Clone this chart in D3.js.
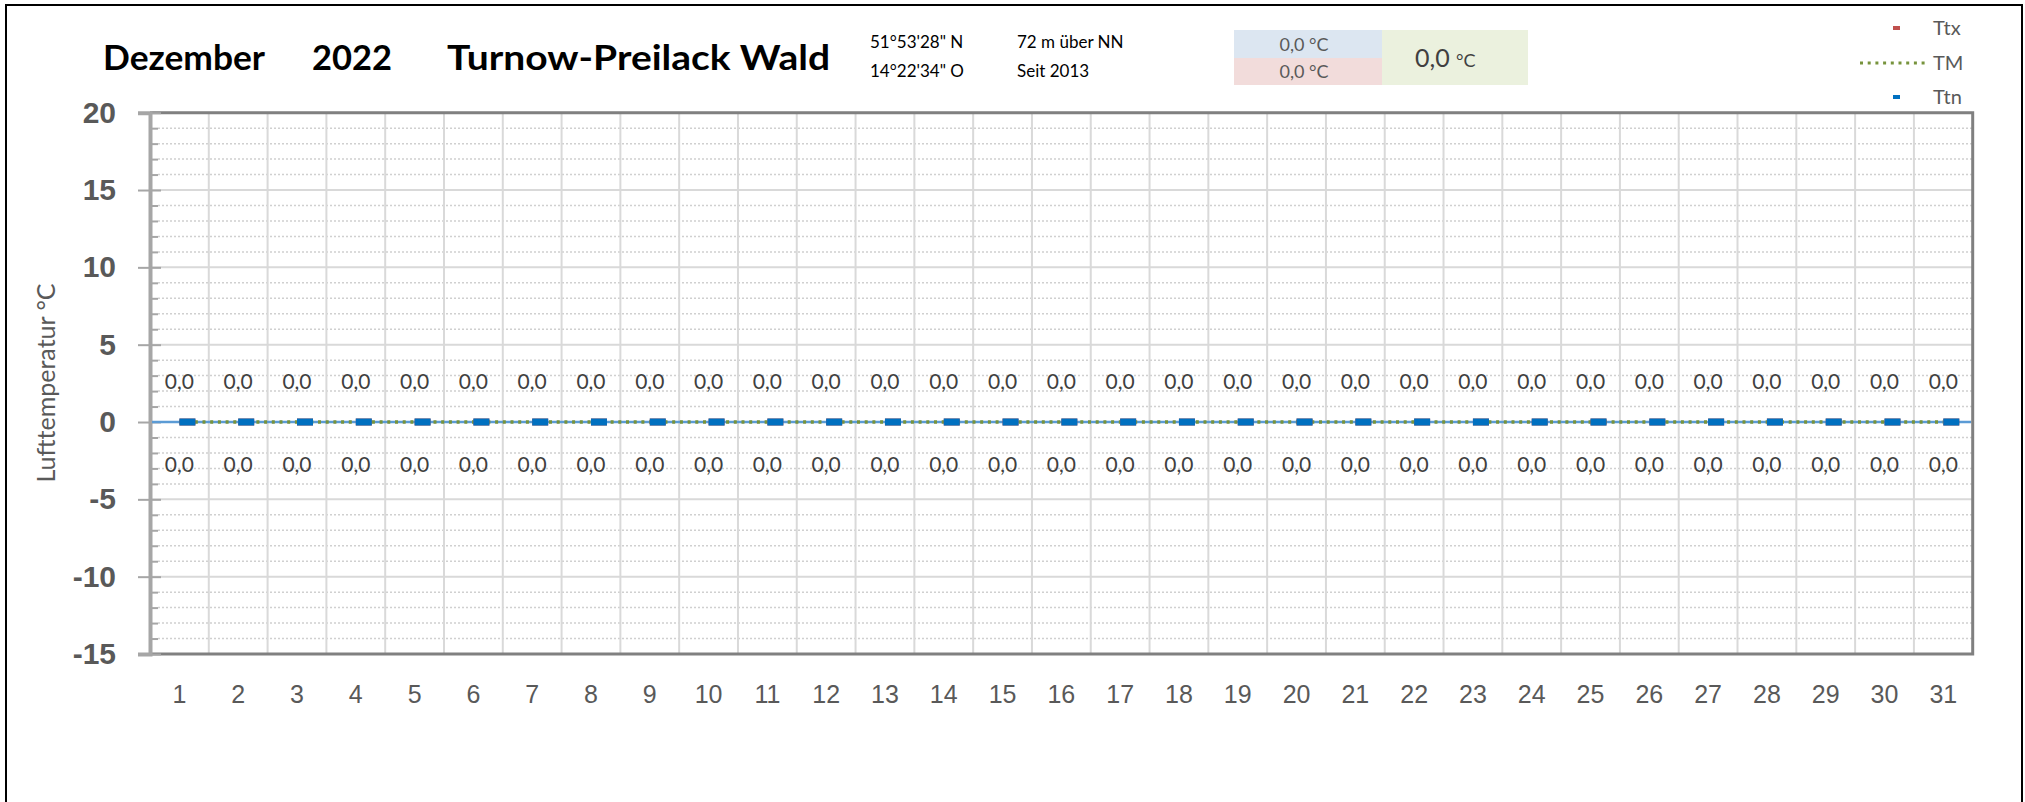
<!DOCTYPE html>
<html>
<head>
<meta charset="utf-8">
<script src="https://cdn.jsdelivr.net/npm/d3@7"></script>
<style>
  body { margin: 0; background: #fff; }
  svg { display: block; font-family: Lato, "Liberation Sans", sans-serif; }
</style>
</head>
<body>
<svg id="chart" width="2025" height="802"></svg>
<script>
// daily values, December 2022 (station reported 0,0 everywhere)
const days = [1, 2, 3, 4, 5, 6, 7, 8, 9, 10, 11, 12, 13, 14, 15, 16, 17, 18, 19, 20, 21, 22, 23, 24, 25, 26, 27, 28, 29, 30, 31];
const ttx = [0, 0, 0, 0, 0, 0, 0, 0, 0, 0, 0, 0, 0, 0, 0, 0, 0, 0, 0, 0, 0, 0, 0, 0, 0, 0, 0, 0, 0, 0, 0];
const tm  = [0, 0, 0, 0, 0, 0, 0, 0, 0, 0, 0, 0, 0, 0, 0, 0, 0, 0, 0, 0, 0, 0, 0, 0, 0, 0, 0, 0, 0, 0, 0];
const ttn = [0, 0, 0, 0, 0, 0, 0, 0, 0, 0, 0, 0, 0, 0, 0, 0, 0, 0, 0, 0, 0, 0, 0, 0, 0, 0, 0, 0, 0, 0, 0];
const yTicks = [-15, -10, -5, 0, 5, 10, 15, 20];
const seriesNames = ['Ttx', 'TM', 'Ttn'];
const titleParts = ['Dezember', '2022', 'Turnow-Preilack Wald'];
const coordLines = ['51°53\'28" N', '14°22\'34" O'];
const infoLines = ['72 m über NN', 'Seit 2013'];
const meanMin = 0.0;
const meanMax = 0.0;
const meanAll = 0.0;

let fmt = (v) => d3.format('.1f')(v).replace('.', ',').replace('−', '-');

let svg = d3.select('#chart');

// outer frame
svg.append('rect')
  .attr('x', 6).attr('y', 5)
  .attr('width', 2016).attr('height', 800)
  .attr('fill', 'none')
  .attr('stroke', '#000')
  .attr('stroke-width', 2);

let x = d3.scaleBand().domain(days).range([150, 1972.7]);
let y = d3.scaleLinear().domain([-15, 20]).range([654, 112.7]);
let cx = (d) => x(d) + x.bandwidth() / 2;

// minor dotted gridlines
let minor = y.ticks(35).filter(v => v % 5 != 0);
svg.append('g').selectAll('line')
  .data(minor)
  .enter().append('line')
  .attr('x1', 158).attr('x2', 1972)
  .attr('y1', d => y(d)).attr('y2', d => y(d))
  .attr('stroke', '#d0d0d0')
  .attr('stroke-width', 1.5)
  .attr('stroke-dasharray', '2 2');

// major gridlines
svg.append('g').selectAll('line')
  .data(yTicks)
  .enter().append('line')
  .attr('x1', 150).attr('x2', 1972)
  .attr('y1', d => y(d)).attr('y2', d => y(d))
  .attr('stroke', '#d9d9d9')
  .attr('stroke-width', 2);

// vertical gridlines between days
svg.append('g').selectAll('line')
  .data(days.slice(1))
  .enter().append('line')
  .attr('x1', d => x(d)).attr('x2', d => x(d))
  .attr('y1', y(20)).attr('y2', y(-15))
  .attr('stroke', '#d9d9d9')
  .attr('stroke-width', 2);

// plot border (top, right, bottom)
svg.append('path')
  .attr('d', `M150,${y(20)}H1972.7V${y(-15)}H150`)
  .attr('fill', 'none')
  .attr('stroke', '#808080')
  .attr('stroke-width', 3);

// y axis
let yAxis = svg.append('g')
  .attr('transform', 'translate(150,0)')
  .call(d3.axisLeft(y).tickValues(yTicks).tickSize(12).tickPadding(22).tickFormat(d => String(d)));
yAxis.select('.domain').attr('stroke', '#a6a6a6').attr('stroke-width', 4);
yAxis.selectAll('.tick line').attr('stroke', '#a6a6a6').attr('stroke-width', 2).attr('x2', -12).attr('x1', 11);
yAxis.selectAll('.tick text')
  .attr('fill', '#595959')
  .style('font-size', '30px')
  .style('font-weight', 'bold');

let yMinor = svg.append('g')
  .attr('transform', 'translate(150,0)')
  .call(d3.axisLeft(y).tickValues(minor).tickSize(-8).tickFormat(''));
yMinor.select('.domain').remove();
yMinor.selectAll('.tick line').attr('stroke', '#a6a6a6').attr('stroke-width', 2);

// x axis labels
let xAxis = svg.append('g')
  .attr('transform', `translate(0,${y(-15)})`)
  .call(d3.axisBottom(x).tickSize(0).tickPadding(31));
xAxis.select('.domain').remove();
xAxis.selectAll('.tick text')
  .attr('fill', '#595959')
  .style('font-size', '25px');

// y axis title
svg.append('text')
  .attr('transform', 'translate(55,383) rotate(-90)')
  .attr('text-anchor', 'middle')
  .attr('fill', '#595959')
  .style('font-size', '25px')
  .text('Lufttemperatur °C');

// Ttn line (thin blue across whole plot)
svg.append('line')
  .attr('x1', 152).attr('x2', 1971)
  .attr('y1', y(d3.mean(ttn))).attr('y2', y(d3.mean(ttn)))
  .attr('stroke', '#5b9bd5')
  .attr('stroke-width', 2.5);

// TM dotted line
let tmLine = d3.line()
  .x((d, i) => cx(days[i]))
  .y(d => y(d));
svg.append('path')
  .datum(tm)
  .attr('d', tmLine)
  .attr('fill', 'none')
  .attr('stroke', '#77933c')
  .attr('stroke-width', 3.5)
  .attr('stroke-dasharray', '3 4.7');

// Ttx / Ttn dash markers
svg.append('g').selectAll('rect')
  .data(ttx)
  .enter().append('rect')
  .attr('x', (d, i) => cx(days[i]))
  .attr('y', d => y(d) - 3.5)
  .attr('width', 16).attr('height', 7)
  .attr('fill', '#c0504d');
svg.append('g').selectAll('rect')
  .data(ttn)
  .enter().append('rect')
  .attr('x', (d, i) => cx(days[i]))
  .attr('y', d => y(d) - 3.5)
  .attr('width', 16).attr('height', 7)
  .attr('fill', '#0070c0');

// data labels
svg.append('g').selectAll('text')
  .data(ttx)
  .enter().append('text')
  .attr('x', (d, i) => cx(days[i]))
  .attr('y', d => y(d) - 40)
  .attr('dy', '0.35em')
  .attr('text-anchor', 'middle')
  .attr('fill', '#404040')
  .style('font-size', '21px')
  .text(d => fmt(d));
svg.append('g').selectAll('text')
  .data(ttn)
  .enter().append('text')
  .attr('x', (d, i) => cx(days[i]))
  .attr('y', d => y(d) + 43)
  .attr('dy', '0.35em')
  .attr('text-anchor', 'middle')
  .attr('fill', '#404040')
  .style('font-size', '21px')
  .text(d => fmt(d));

// title
let titleX = [103, 312, 447];
let titleW = [162, 80, 383];
svg.append('g').selectAll('text')
  .data(titleParts)
  .enter().append('text')
  .attr('x', (d, i) => titleX[i])
  .attr('y', 70)
  .attr('textLength', (d, i) => titleW[i])
  .attr('lengthAdjust', 'spacingAndGlyphs')
  .attr('fill', '#000')
  .style('font-size', '34px')
  .style('font-weight', 'bold')
  .text(d => d);

// station info
svg.append('g').selectAll('text')
  .data(coordLines)
  .enter().append('text')
  .attr('x', 870)
  .attr('y', (d, i) => 48 + i * 28.5)
  .style('font-size', '17px')
  .text(d => d);
svg.append('g').selectAll('text')
  .data(infoLines)
  .enter().append('text')
  .attr('x', 1017)
  .attr('y', (d, i) => 48 + i * 28.5)
  .style('font-size', '17px')
  .text(d => d);

// summary boxes
svg.append('rect').attr('x', 1234).attr('y', 30).attr('width', 148).attr('height', 28).attr('fill', '#dce6f1');
svg.append('rect').attr('x', 1234).attr('y', 58).attr('width', 148).attr('height', 27).attr('fill', '#f2dcdb');
svg.append('rect').attr('x', 1382).attr('y', 30).attr('width', 146).attr('height', 55).attr('fill', '#ebf1de');
svg.append('text').attr('x', 1304).attr('y', 51).attr('text-anchor', 'middle')
  .attr('fill', '#595959').style('font-size', '18px').text(fmt(meanMin) + '  °C');
svg.append('text').attr('x', 1304).attr('y', 78).attr('text-anchor', 'middle')
  .attr('fill', '#595959').style('font-size', '18px').text(fmt(meanMax) + '  °C');
let big = svg.append('text').attr('x', 1415).attr('y', 67).attr('fill', '#404040');
big.append('tspan').style('font-size', '25px').text(fmt(meanAll) + '  ');
big.append('tspan').style('font-size', '18px').text('°C');

// legend
let legendY = [28, 63, 97];
let legend = svg.append('g').selectAll('g')
  .data(seriesNames)
  .enter().append('g')
  .attr('transform', (d, i) => `translate(0,${legendY[i]})`);
legend.append('text')
  .attr('x', 1933)
  .attr('dy', '0.35em')
  .attr('fill', '#595959')
  .style('font-size', '20px')
  .text(d => d);
legend.filter(d => d != 'TM').append('rect')
  .attr('x', 1893).attr('y', -2)
  .attr('width', 7).attr('height', 4)
  .attr('fill', d => d == 'Ttx' ? '#c0504d' : '#0070c0');
legend.filter(d => d == 'TM').append('line')
  .attr('x1', 1860).attr('x2', 1928)
  .attr('stroke', '#77933c')
  .attr('stroke-width', 3)
  .attr('stroke-dasharray', '3 4.7');
</script>
</body>
</html>
